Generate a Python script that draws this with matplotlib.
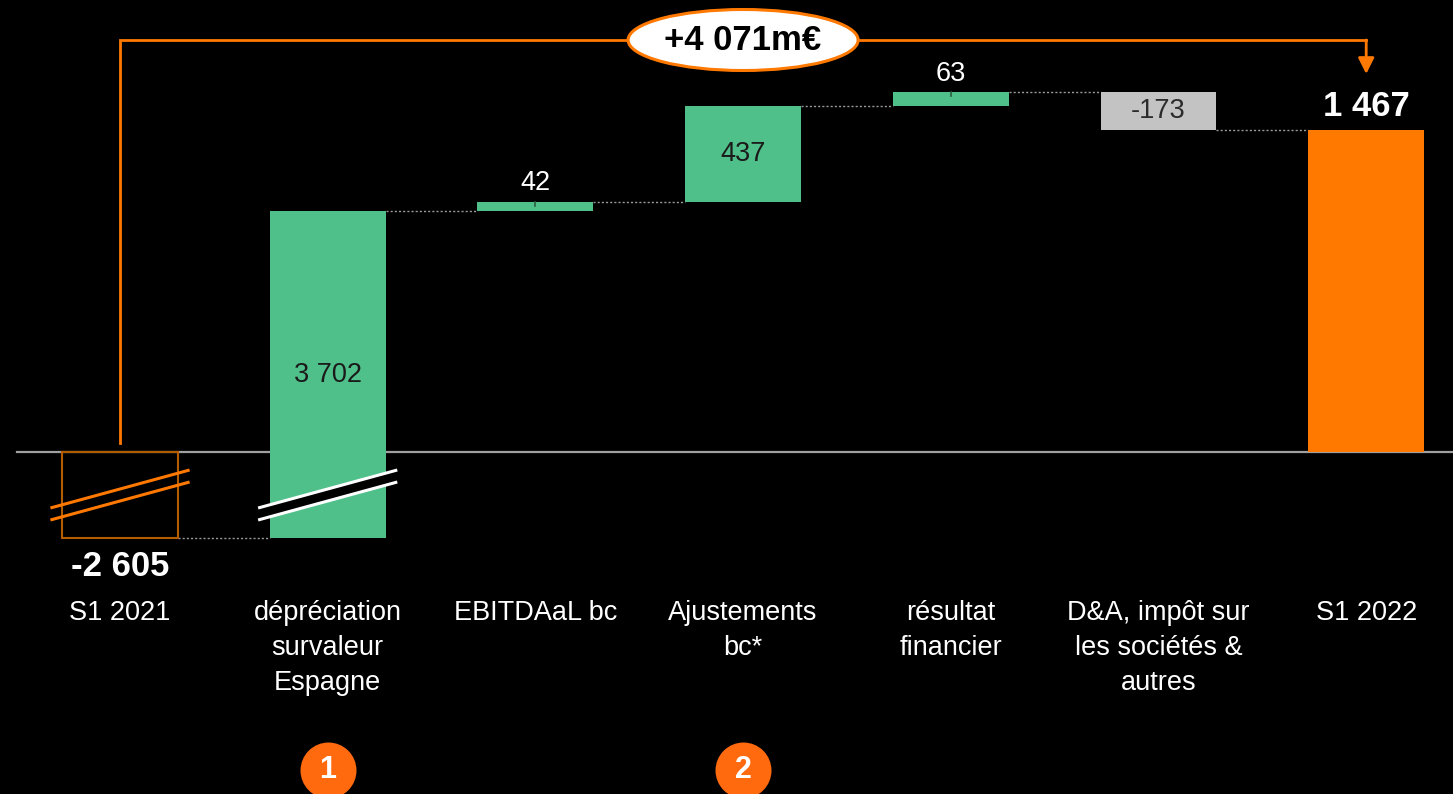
import matplotlib
matplotlib.use("Agg")
import matplotlib.pyplot as plt
from matplotlib.patches import Ellipse, Polygon
import numpy as np

plt.rcParams['font.family'] = ['Liberation Sans', 'DejaVu Sans']

# ---- data ----
categories = ["S1 2021", "dépréciation\nsurvaleur\nEspagne", "EBITDAaL bc",
              "Ajustements\nbc*", "résultat\nfinancier",
              "D&A, impôt sur\nles sociétés &\nautres", "S1 2022"]
values = [-2605, 3702, 42, 437, 63, -173, 1467]
value_labels = ["-2 605", "3 702", "42", "437", "63", "-173", "1 467"]
total_change_label = "+4 071m€"
circle_labels = {1: "1", 3: "2"}

# ---- style ----
W, H, DPI = 1453, 794, 100
ORANGE = "#FF7900"
ORANGE_DARK = "#B35C00"
GREEN = "#50C08A"
GREY_BAR = "#C3C3C3"
ZERO_Y_PX = 452          # pixel row of the zero line
PX_PER_UNIT = 0.2195     # vertical scale
NEG_SCALE = 0.1504       # compressed scale for the broken negative part
X0_PX, DX_PX = 120, 207.7
BAR_W = 0.558

def disp(v):
    """map a real value to plotted value (axis is broken below zero)"""
    return v if v >= 0 else v * NEG_SCALE

def py(px):
    """pixel row -> y data coordinate"""
    return (ZERO_Y_PX - px) / PX_PER_UNIT

fig = plt.figure(figsize=(W / DPI, H / DPI), dpi=DPI, facecolor="black")
ax = fig.add_axes([0, 0, 1, 1])
ax.set_facecolor("black")
ax.set_xlim(-X0_PX / DX_PX, (W - X0_PX) / DX_PX)
ax.set_ylim(py(H), py(0))
ax.axis("off")

n = len(values)
x = np.arange(n)

# cumulative levels
starts, ends = [], []
running = 0.0
for i, v in enumerate(values):
    if i == 0 or i == n - 1:
        s, e = 0.0, v
        running = v
    else:
        s, e = running, running + v
        running = e
    starts.append(s)
    ends.append(e)

# zero line
ax.axhline(0, xmin=17 / W, xmax=1, color="#A0A0A0", lw=1.6, zorder=1)

colors = []
for i, v in enumerate(values):
    if i == 0:
        colors.append("none")
    elif i == n - 1:
        colors.append(ORANGE)
    elif v >= 0:
        colors.append(GREEN)
    else:
        colors.append(GREY_BAR)

for i in range(n):
    lo = disp(min(starts[i], ends[i]))
    hi = disp(max(starts[i], ends[i]))
    if i == 0:
        ax.bar(x[i], hi - lo, bottom=lo, width=BAR_W, facecolor="none",
               edgecolor=ORANGE_DARK, lw=1.5, zorder=2)
    else:
        ax.bar(x[i], hi - lo, bottom=lo, width=BAR_W, color=colors[i],
               lw=0, zorder=2)

# dotted connectors
for i in range(n - 1):
    lvl = disp(ends[i])
    ax.plot([x[i] + BAR_W / 2, x[i + 1] - BAR_W / 2], [lvl, lvl],
            color="#9A9A9A", lw=1.0, ls=(0, (1.5, 1.5)), zorder=1)

# small ticks on thin bars
for i in (2, 4):
    top = disp(ends[i])
    ax.plot([x[i], x[i]], [top, top - 4 / PX_PER_UNIT], color="#2a5a40",
            lw=1.2, zorder=3)

# break marks
half = 0.335
yl_up, yr_up = py(508), py(470)
gap = 12 / PX_PER_UNIT
for i, col in ((0, ORANGE), (1, "white")):
    xl, xr = x[i] - half, x[i] + half
    if i == 1:
        poly = Polygon([[xl, yl_up], [xr, yr_up], [xr, yr_up - gap],
                        [xl, yl_up - gap]], closed=True, facecolor="black",
                       edgecolor="none", zorder=4)
        ax.add_patch(poly)
    ax.plot([xl, xr], [yl_up, yr_up], color=col, lw=2.2, zorder=5,
            solid_capstyle="butt")
    ax.plot([xl, xr], [yl_up - gap, yr_up - gap], color=col, lw=2.2, zorder=5,
            solid_capstyle="butt")

# value labels
fs_val = 19.5
for i, v in enumerate(values):
    lo = disp(min(starts[i], ends[i]))
    hi = disp(max(starts[i], ends[i]))
    if i == 0:
        ax.annotate(value_labels[i], (x[i], lo), xytext=(0, -9),
                    textcoords="offset points", ha="center", va="top",
                    color="white", fontsize=25, fontweight="bold")
    elif i == n - 1:
        ax.annotate(value_labels[i], (x[i], hi), xytext=(0, 5),
                    textcoords="offset points", ha="center", va="bottom",
                    color="white", fontsize=25, fontweight="bold")
    elif abs(v) < 100 and v > 0:
        ax.annotate(value_labels[i], (x[i], hi), xytext=(0, 4),
                    textcoords="offset points", ha="center", va="bottom",
                    color="white", fontsize=fs_val)
    else:
        ax.text(x[i], (lo + hi) / 2, value_labels[i], ha="center",
                va="center", color="#1a1a1a" if v > 0 else "#2b2b2b",
                fontsize=fs_val)

# category labels
for i, c in enumerate(categories):
    ax.text(x[i], py(600), c, ha="center", va="top", color="white",
            fontsize=19.5, linespacing=1.45)

# bracket with total change
top_lvl = py(40)
ax.plot([x[0], x[0], x[-1]], [py(443), top_lvl, top_lvl], color=ORANGE,
        lw=2, zorder=3, solid_joinstyle="miter")
ax.annotate("", xy=(x[-1], py(74)), xytext=(x[-1], top_lvl),
            arrowprops=dict(arrowstyle="-|>", color=ORANGE, lw=2,
                            mutation_scale=24, shrinkA=0, shrinkB=0),
            zorder=3)
ell = Ellipse((3, top_lvl), width=230 / DX_PX, height=61 / PX_PER_UNIT,
              facecolor="white", edgecolor=ORANGE, lw=2.2, zorder=6)
ax.add_patch(ell)
ax.text(3, top_lvl, total_change_label, ha="center", va="center",
        color="black", fontsize=25, fontweight="bold", zorder=7)

# numbered circles
for i, lab in circle_labels.items():
    ax.scatter([x[i]], [py(770)], s=(56 / DPI * 72) ** 2, color="#FF6A0F",
               zorder=6, linewidths=0)
    ax.text(x[i], py(770), lab, ha="center", va="center", color="white",
            fontsize=22, fontweight="bold", zorder=7)

fig.savefig("out.png", dpi=DPI, facecolor="black")
